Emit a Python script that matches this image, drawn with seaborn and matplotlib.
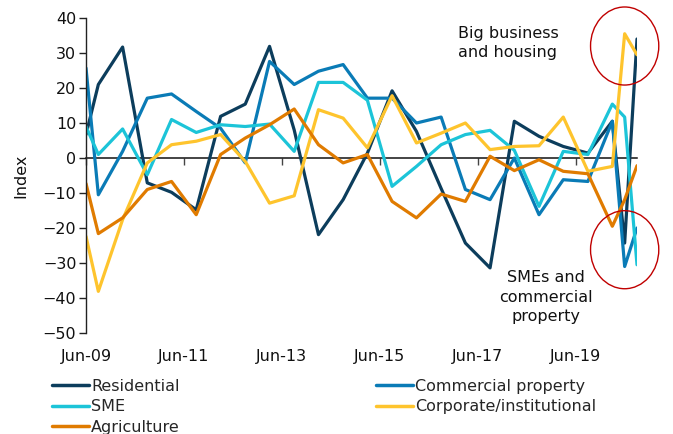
import pandas as pd
import matplotlib.pyplot as plt
import matplotlib.dates as mdates
from matplotlib.patches import Ellipse
import seaborn as sns

# survey dates (half-yearly, with extra quarterly points at the ends)
dates = ["2009-06", "2009-09", "2010-03", "2010-09", "2011-03", "2011-09",
         "2012-03", "2012-09", "2013-03", "2013-09", "2014-03", "2014-09",
         "2015-03", "2015-09", "2016-03", "2016-09", "2017-03", "2017-09",
         "2018-03", "2018-09", "2019-03", "2019-09", "2020-03", "2020-06",
         "2020-09"]

residential = [6.7, 21.0, 31.7, -7.1, -9.8, -14.8, 11.9, 15.4, 31.9, 8.0,
               -21.9, -11.9, 1.4, 19.2, 7.6, -8.7, -24.3, -31.4, 10.5, 6.2,
               3.3, 1.4, 10.5, -24.3, 34.0]
commercial = [25.7, -10.5, 1.9, 17.1, 18.3, 13.3, 8.5, -1.4, 27.6, 21.0,
              24.8, 26.7, 17.1, 17.1, 10.0, 11.7, -9.0, -11.9, 0.0, -16.2,
              -6.2, -6.7, 10.5, -31.0, -20.0]
sme = [9.0, 1.0, 8.3, -4.8, 11.0, 7.3, 9.5, 9.0, 9.7, 1.9,
       21.6, 21.6, 16.5, -8.1, -2.4, 3.8, 6.7, 7.9, 2.2, -13.8,
       1.9, 1.0, 15.4, 11.7, -30.5]
corporate = [-22.4, -38.1, -17.6, -1.4, 3.8, 4.8, 6.7, -1.0, -12.9, -10.8,
             13.8, 11.4, 2.9, 17.8, 4.3, 7.1, 10.0, 2.4, 3.3, 3.5,
             11.7, -3.8, -2.4, 35.5, 29.5]
agriculture = [-7.3, -21.6, -17.1, -9.0, -6.7, -16.2, 1.0, 5.7, 9.5, 14.0,
               3.8, -1.4, 1.0, -12.4, -17.1, -10.3, -12.4, 0.5, -3.6, -0.5,
               -3.8, -4.5, -19.5, -11.9, -2.2]

series_names = ["Residential", "Commercial property", "SME",
                "Corporate/institutional", "Agriculture"]
colors = ["#0c3d5c", "#0a7bb6", "#1cc4d8", "#fec42d", "#e07b00"]

tick_dates = ["2009-06", "2011-06", "2013-06", "2015-06", "2017-06", "2019-06"]
tick_labels = ["Jun-09", "Jun-11", "Jun-13", "Jun-15", "Jun-17", "Jun-19"]

df = pd.DataFrame({
    "date": pd.to_datetime(dates * 5),
    "value": residential + commercial + sme + corporate + agriculture,
    "series": sum([[n] * len(dates) for n in series_names], []),
})

sns.set_theme(style="white")
plt.rcParams["font.family"] = ["DejaVu Sans"]
fs = 11.5

fig = plt.figure(figsize=(6.73, 4.34), dpi=100)
ax = fig.add_axes([0.1278, 0.2327, 0.8187, 0.7258])

sns.lineplot(data=df, x="date", y="value", hue="series", hue_order=series_names,
             palette=colors, linewidth=2.3, ax=ax, legend=False)

ax.set_xlim(pd.Timestamp(dates[0]), pd.Timestamp(dates[-1]))
ax.set_ylim(-50, 40)
ax.set_yticks(range(-50, 41, 10))
ax.tick_params(axis="y", labelsize=fs, length=5, width=1, color="#222222",
               left=True, pad=2, labelcolor="#111111")
ax.set_ylabel("Index", fontsize=fs, color="#111111", labelpad=10)
ax.set_xlabel("")

for s in ["top", "right"]:
    ax.spines[s].set_visible(False)
ax.spines["left"].set_color("#222222")
ax.spines["left"].set_linewidth(1)
ax.spines["bottom"].set_position(("data", 0))
ax.spines["bottom"].set_color("#111111")
ax.spines["bottom"].set_linewidth(1.1)
ax.spines["bottom"].set_zorder(1)

ticks = pd.to_datetime(tick_dates)
ax.set_xticks(ticks)
ax.set_xticklabels([])
ax.tick_params(axis="x", length=5, width=1, color="#444444", bottom=True,
               direction="out")
for t, lab in zip(ticks, tick_labels):
    ax.text(mdates.date2num(t), -0.05, lab, transform=ax.get_xaxis_transform(),
            ha="center", va="top", fontsize=fs, color="#111111")

# highlight circles
xc = mdates.date2num(pd.Timestamp("2020-06"))
for yc in [32.0, -26.2]:
    ax.add_patch(Ellipse((xc, yc), width=509, height=22.3, fill=False,
                         edgecolor="#c00000", linewidth=1.0, clip_on=False,
                         zorder=5))

ax.text(0.675, 0.975, "Big business\nand housing", transform=ax.transAxes,
        ha="left", va="top", fontsize=fs, color="#111111", linespacing=1.38)
ax.text(0.835, 0.2, "SMEs and\ncommercial\nproperty", transform=ax.transAxes,
        ha="center", va="top", fontsize=fs, color="#111111", linespacing=1.38)

# legend laid out row by row like the original
handles = [plt.Line2D([], [], color=c, linewidth=2.5) for c in colors]
order = [0, 2, 4, 1, 3]
fig.legend([handles[i] for i in order], [series_names[i] for i in order],
           ncol=2, loc="upper left", bbox_to_anchor=(0.077, 0.127),
           frameon=False, fontsize=fs, handlelength=2.3, handletextpad=0.15,
           columnspacing=12.3, labelspacing=0.34, borderpad=0, borderaxespad=0)

fig.savefig("out.png", dpi=100)
